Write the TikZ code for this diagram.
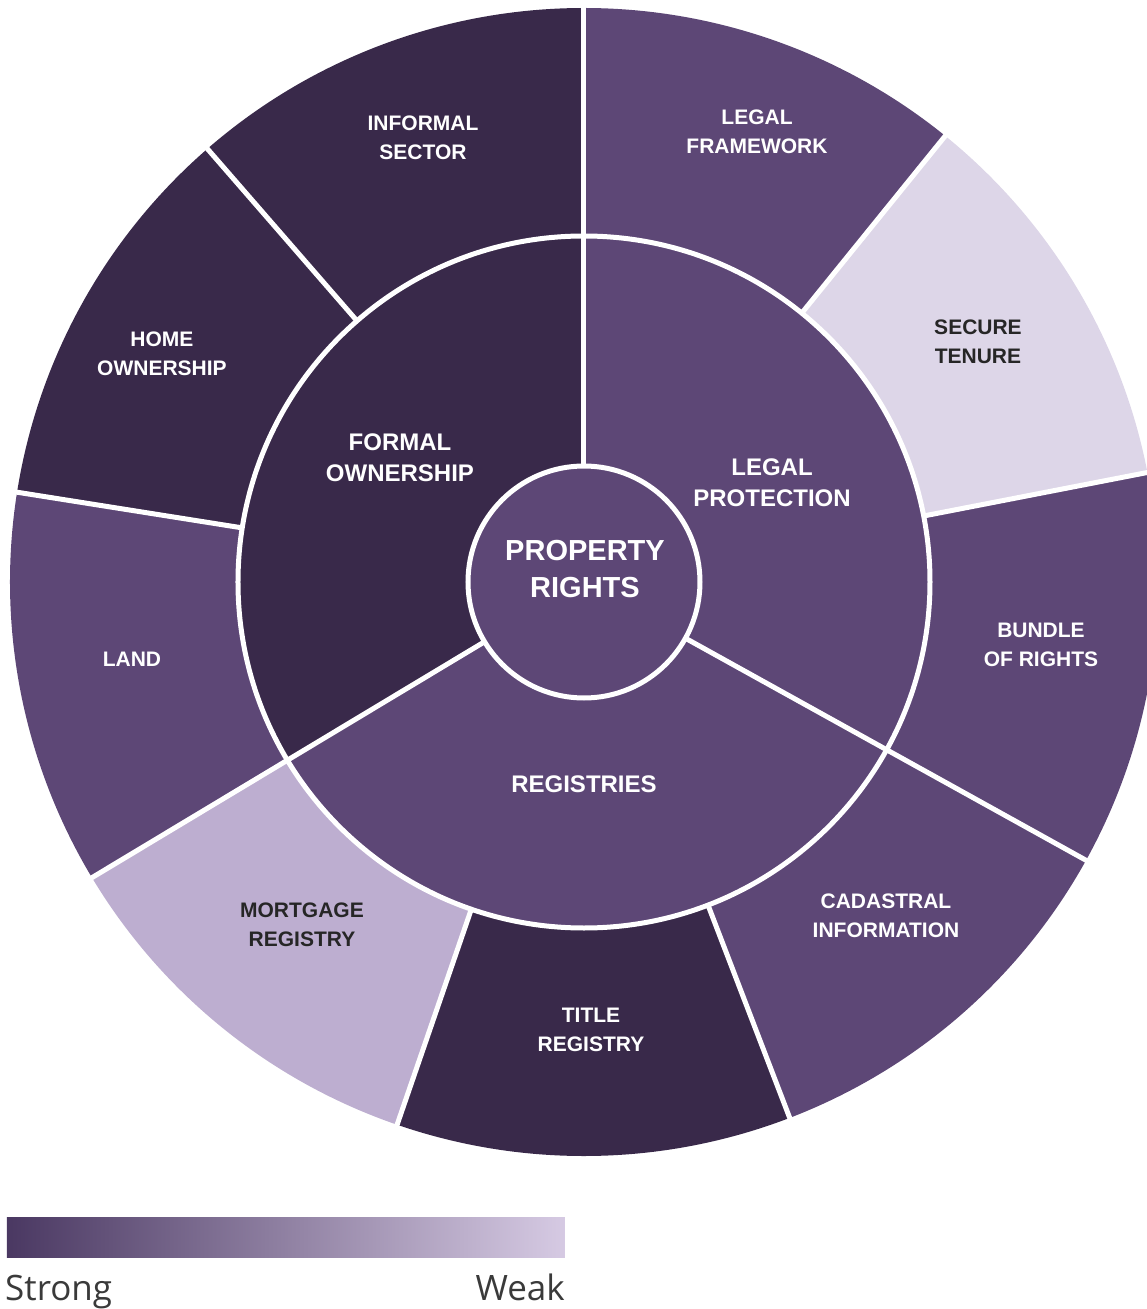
\documentclass[tikz,border=0pt]{standalone}
\usepackage{fontspec}
\setmainfont{Liberation Sans}
\newfontfamily\legendfont{Open Sans}
\usetikzlibrary{positioning}
\definecolor{deeppurple}{HTML}{39294A}
\definecolor{midpurple}{HTML}{5D4776}
\definecolor{palepurple}{HTML}{DDD6E8}
\definecolor{softpurple}{HTML}{BDAED0}
\definecolor{labeldark}{HTML}{262626}
\definecolor{legendgrey}{HTML}{3A3A3A}
\definecolor{barleft}{HTML}{4A3862}
\definecolor{barright}{HTML}{D6CAE3}
\tikzstyle{outerlabel} = [align=center, text=white, font=\bfseries\fontsize{21}{29}\selectfont]
\tikzstyle{ringlabel} = [align=center, text=white, font=\bfseries\fontsize{24}{31}\selectfont]
\tikzstyle{hublabel} = [align=center, text=white, font=\bfseries\fontsize{29}{37}\selectfont]
\tikzstyle{gap} = [white, line width=5pt]
\tikzstyle{legendtext} = [text=legendgrey, inner sep=0pt, font=\legendfont\fontsize{35}{40}\selectfont]
% colour, start angle, end angle, inner radius, outer radius
\newcommand{\wedgefill}[5]{\fill[#1] (#2:#4pt) arc[start angle=#2, end angle=#3, radius=#4pt] -- (#3:#5pt) arc[start angle=#3, end angle=#2, radius=#5pt] -- cycle;}

\begin{document}
\begin{tikzpicture}[x=1pt, y=1pt]
        \useasboundingbox (-584,582) rectangle (563,-727);
        \clip (-584,582) rectangle (563,-727);
        %Outer ring
        \wedgefill{deeppurple}{90}{131}{346}{574}
        \wedgefill{deeppurple}{131}{171}{346}{574}
        \wedgefill{midpurple}{171}{211}{346}{574}
        \wedgefill{softpurple}{211}{251}{346}{574}
        \wedgefill{deeppurple}{251}{291}{346}{574}
        \wedgefill{midpurple}{291}{331}{346}{574}
        \wedgefill{midpurple}{331}{371}{346}{574}
        \wedgefill{palepurple}{11}{51}{346}{574}
        \wedgefill{midpurple}{51}{90}{346}{574}
        %Middle ring
        \wedgefill{deeppurple}{90}{211}{116}{346}
        \wedgefill{midpurple}{211}{331}{116}{346}
        \wedgefill{midpurple}{331}{450}{116}{346}
        %Hub
        \fill[midpurple] (0,0) circle[radius=116pt];
        %Gaps
        \draw[gap] (0,0) circle[radius=116pt];
        \draw[gap] (0,0) circle[radius=346pt];
        \draw[gap] (90:116pt) -- (90:590pt);
        \draw[gap] (211:116pt) -- (211:590pt);
        \draw[gap] (331:116pt) -- (331:590pt);
        \draw[gap] (131:346pt) -- (131:590pt);
        \draw[gap] (171:346pt) -- (171:590pt);
        \draw[gap] (251:346pt) -- (251:590pt);
        \draw[gap] (291:346pt) -- (291:590pt);
        \draw[gap] (11:346pt) -- (11:590pt);
        \draw[gap] (51:346pt) -- (51:590pt);
        %Labels
        \node [hublabel] (rights) at (1,13) {PROPERTY\\RIGHTS};
        \node [ringlabel] (formal) at (-184,124) {FORMAL\\OWNERSHIP};
        \node [ringlabel] (protection) at (188,99) {LEGAL\\PROTECTION};
        \node [ringlabel] (registries) at (0,-202) {REGISTRIES};
        \node [outerlabel] (informal) at (-161,444) {INFORMAL\\SECTOR};
        \node [outerlabel] (home) at (-422,228) {HOME\\OWNERSHIP};
        \node [outerlabel] (land) at (-452,-77) {LAND};
        \node [outerlabel, text=labeldark] (mortgage) at (-282,-343) {MORTGAGE\\REGISTRY};
        \node [outerlabel] (title) at (7,-448) {TITLE\\REGISTRY};
        \node [outerlabel] (cadastral) at (302,-334) {CADASTRAL\\INFORMATION};
        \node [outerlabel] (bundle) at (457,-63) {BUNDLE\\OF RIGHTS};
        \node [outerlabel, text=labeldark] (tenure) at (394,240) {SECURE\\TENURE};
        \node [outerlabel] (framework) at (173,450) {LEGAL\\FRAMEWORK};
        %Legend
        \shade[left color=barleft, right color=barright] (-577,-635) rectangle (-19,-675);
        \node [legendtext, anchor=base west] (strong) at (-579,-718) {Strong};
        \node [legendtext, anchor=base east] (weak) at (-19,-718) {Weak};
    \end{tikzpicture}
\end{document}
